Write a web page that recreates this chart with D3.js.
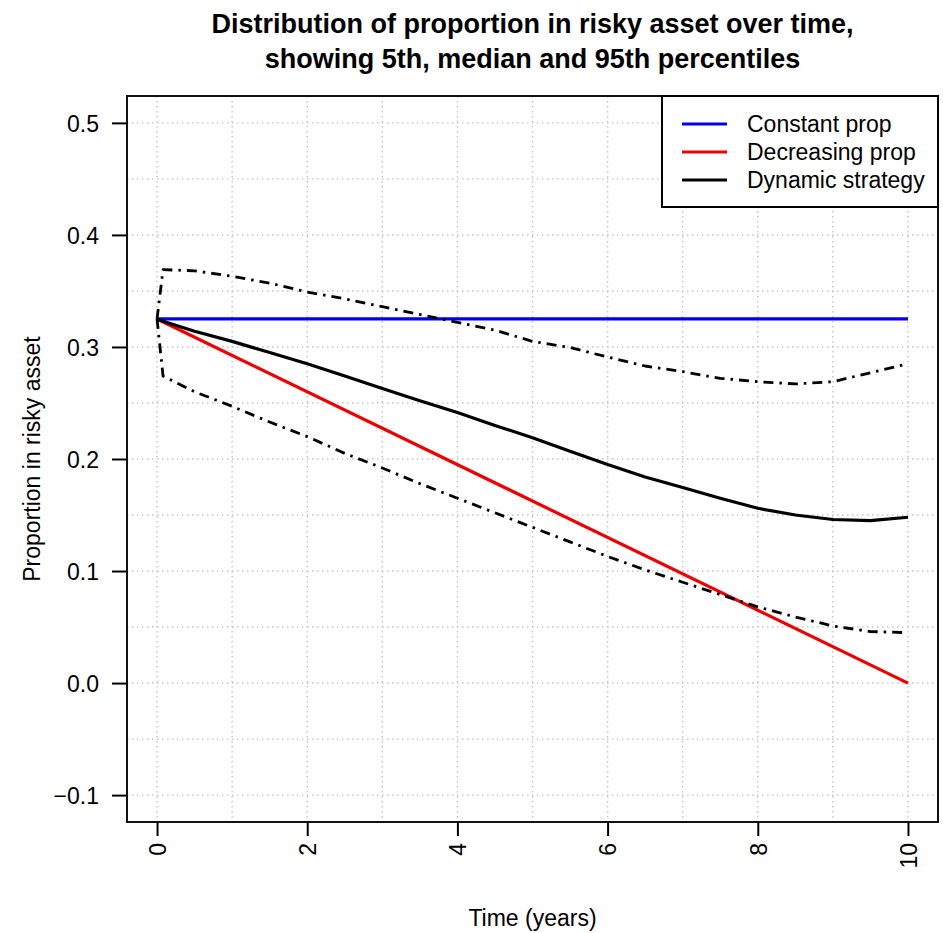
<!DOCTYPE html>
<html>
<head>
<meta charset="utf-8">
<script src="https://cdn.jsdelivr.net/npm/d3@7"></script>
<style>
  html, body { margin: 0; padding: 0; background: #fff; }
  text { font-family: "Liberation Sans", Arial, sans-serif; }
</style>
</head>
<body>
<svg id="chart" width="943" height="933"></svg>
<script>
// ---- data ----
const times = [0, 0.08, 0.5, 1, 1.5, 2, 2.5, 3, 3.5, 4, 4.5, 5, 5.5, 6, 6.5, 7, 7.5, 8, 8.5, 9, 9.5, 10];
const dynMedian = [0.325, 0.323, 0.314, 0.305, 0.295, 0.285, 0.274, 0.263, 0.252, 0.2415, 0.230, 0.219, 0.207, 0.195, 0.184, 0.1745, 0.165, 0.156, 0.150, 0.146, 0.145, 0.148];
const dynP95 = [0.325, 0.369, 0.368, 0.363, 0.357, 0.349, 0.343, 0.336, 0.329, 0.322, 0.315, 0.305, 0.2995, 0.291, 0.283, 0.278, 0.272, 0.269, 0.267, 0.269, 0.277, 0.285];
const dynP05 = [0.325, 0.274, 0.260, 0.247, 0.233, 0.220, 0.205, 0.192, 0.178, 0.165, 0.152, 0.139, 0.126, 0.113, 0.101, 0.090, 0.079, 0.068, 0.059, 0.051, 0.046, 0.045];
const constTimes = [0, 10];
const constProp = [0.325, 0.325];
const decTimes = [0, 10];
const decProp = [0.325, 0.0];
const xTicks = [0, 2, 4, 6, 8, 10];
const yTicks = [-0.1, 0.0, 0.1, 0.2, 0.3, 0.4, 0.5];
const xGrid = [0, 1, 2, 3, 4, 5, 6, 7, 8, 9, 10];
const yGrid = [-0.1, -0.05, 0, 0.05, 0.1, 0.15, 0.2, 0.25, 0.3, 0.35, 0.4, 0.45, 0.5];
const legendLabels = ["Constant prop", "Decreasing prop", "Dynamic strategy"];
const legendColors = ["#0000ee", "#ee0000", "#000000"];
const titleLines = ["Distribution of proportion in risky asset over time,", "showing 5th, median and 95th percentiles"];
const xLabel = "Time (years)";
const yLabel = "Proportion in risky asset";

// ---- layout ----
const L = 127, R = 938, T = 96, B = 822;
const svg = d3.select("#chart");
const x = d3.scaleLinear().domain([-0.4, 10.4]).range([L, R]);
const y = d3.scaleLinear().domain([-0.124, 0.524]).range([B, T]);

// grid
const g = svg.append("g");
g.selectAll("line.vg").data(xGrid).enter().append("line")
  .attr("x1", d => x(d)).attr("x2", d => x(d)).attr("y1", T).attr("y2", B)
  .attr("stroke", "#c4c4c4").attr("stroke-width", 1.4).attr("stroke-dasharray", "1.5,3.5");
g.selectAll("line.hg").data(yGrid).enter().append("line")
  .attr("y1", d => y(d)).attr("y2", d => y(d)).attr("x1", L).attr("x2", R)
  .attr("stroke", "#c4c4c4").attr("stroke-width", 1.4).attr("stroke-dasharray", "1.5,3.5");

svg.append("defs").append("clipPath").attr("id", "pc")
  .append("rect").attr("x", L).attr("y", T).attr("width", R - L).attr("height", B - T);
const plot = svg.append("g").attr("clip-path", "url(#pc)");

const line = d3.line().x(d => x(d[0])).y(d => y(d[1]));
const zip = (a, b) => a.map((v, i) => [v, b[i]]);

plot.append("path").datum(zip(constTimes, constProp)).attr("d", line)
  .attr("fill", "none").attr("stroke", legendColors[0]).attr("stroke-width", 3.2);
plot.append("path").datum(zip(decTimes, decProp)).attr("d", line)
  .attr("fill", "none").attr("stroke", legendColors[1]).attr("stroke-width", 3.2);
plot.append("path").datum(zip(times, dynMedian)).attr("d", line)
  .attr("fill", "none").attr("stroke", "#000").attr("stroke-width", 3.2).attr("stroke-linejoin", "round");
[dynP95, dynP05].forEach(arr => {
  plot.append("path").datum(zip(times, arr)).attr("d", line)
    .attr("fill", "none").attr("stroke", "#000").attr("stroke-width", 2.8)
    .attr("stroke-dasharray", "10,6,2.5,6").attr("stroke-linejoin", "round");
});

// axes
const xAxis = d3.axisBottom(x).tickValues(xTicks).tickSize(14).tickFormat(d3.format("d"));
const gx = svg.append("g").attr("transform", `translate(0,${B})`).call(xAxis);
gx.select(".domain").remove();
gx.selectAll(".tick line").attr("stroke", "#000").attr("stroke-width", 2);
gx.selectAll(".tick text")
  .attr("font-size", 23).attr("fill", "#000")
  .attr("text-anchor", "end")
  .attr("transform", "rotate(-90)")
  .attr("x", -21).attr("y", 0).attr("dy", "0.36em");

const yAxis = d3.axisLeft(y).tickValues(yTicks).tickSize(15)
  .tickFormat(d => d3.format(".1f")(d).replace("-", "\u2212"));
const gy = svg.append("g").attr("transform", `translate(${L},0)`).call(yAxis);
gy.select(".domain").remove();
gy.selectAll(".tick line").attr("stroke", "#000").attr("stroke-width", 2);
gy.selectAll(".tick text").attr("font-size", 23).attr("fill", "#000").attr("x", -28).attr("dy", "0.36em");

// box
svg.append("rect").attr("x", L).attr("y", T).attr("width", R - L).attr("height", B - T)
  .attr("fill", "none").attr("stroke", "#111").attr("stroke-width", 2);

// legend
const lg = svg.append("g");
lg.append("rect").attr("x", 662).attr("y", T).attr("width", R - 662).attr("height", 207 - T)
  .attr("fill", "#fff").attr("stroke", "#000").attr("stroke-width", 2);
legendLabels.forEach((lab, i) => {
  const yy = 124 + i * 28;
  lg.append("line").attr("x1", 682).attr("x2", 727).attr("y1", yy).attr("y2", yy)
    .attr("stroke", legendColors[i]).attr("stroke-width", 3.2);
  lg.append("text").attr("x", 747).attr("y", yy).attr("dy", "0.36em")
    .attr("font-size", 23).attr("fill", "#000").text(lab);
});

// titles
titleLines.forEach((t, i) => {
  svg.append("text").attr("x", (L + R) / 2).attr("y", 33 + i * 35)
    .attr("text-anchor", "middle").attr("font-size", 27).attr("font-weight", "bold").attr("fill", "#000").text(t);
});
svg.append("text").attr("x", (L + R) / 2).attr("y", 926).attr("text-anchor", "middle")
  .attr("font-size", 23).attr("fill", "#000").text(xLabel);
svg.append("text").attr("transform", `translate(40,${(T + B) / 2}) rotate(-90)`).attr("text-anchor", "middle")
  .attr("font-size", 23).attr("fill", "#000").text(yLabel);
</script>
</body>
</html>
